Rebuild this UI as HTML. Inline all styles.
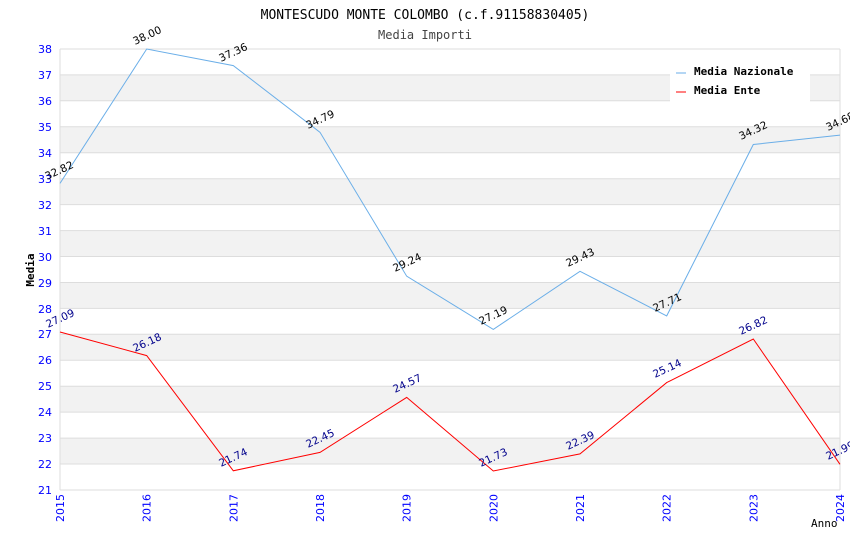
<!DOCTYPE html>
<html><head><meta charset="utf-8"><style>body{margin:0;background:#fff}svg{display:block}</style></head><body>
<svg width="850" height="550" xmlns="http://www.w3.org/2000/svg" font-family="DejaVu Sans, sans-serif">
<rect width="850" height="550" fill="#fff"/>
<g fill="#f2f2f2">
<rect x="60" y="74.9" width="780" height="25.9"/><rect x="60" y="126.8" width="780" height="25.9"/><rect x="60" y="178.7" width="780" height="25.9"/><rect x="60" y="230.6" width="780" height="25.9"/><rect x="60" y="282.5" width="780" height="25.9"/><rect x="60" y="334.3" width="780" height="25.9"/><rect x="60" y="386.2" width="780" height="25.9"/><rect x="60" y="438.1" width="780" height="25.9"/>
</g>
<g stroke="#ddd" stroke-width="1">
<line x1="60" y1="74.9" x2="840" y2="74.9"/><line x1="60" y1="100.8" x2="840" y2="100.8"/><line x1="60" y1="126.8" x2="840" y2="126.8"/><line x1="60" y1="152.7" x2="840" y2="152.7"/><line x1="60" y1="178.7" x2="840" y2="178.7"/><line x1="60" y1="204.6" x2="840" y2="204.6"/><line x1="60" y1="230.6" x2="840" y2="230.6"/><line x1="60" y1="256.5" x2="840" y2="256.5"/><line x1="60" y1="282.5" x2="840" y2="282.5"/><line x1="60" y1="308.4" x2="840" y2="308.4"/><line x1="60" y1="334.3" x2="840" y2="334.3"/><line x1="60" y1="360.2" x2="840" y2="360.2"/><line x1="60" y1="386.2" x2="840" y2="386.2"/><line x1="60" y1="412.1" x2="840" y2="412.1"/><line x1="60" y1="438.1" x2="840" y2="438.1"/><line x1="60" y1="464" x2="840" y2="464"/>
<line x1="60" y1="49" x2="840" y2="49"/><line x1="60" y1="490" x2="840" y2="490"/><line x1="60" y1="49" x2="60" y2="490"/><line x1="840" y1="49" x2="840" y2="490"/>
</g>
<g font-size="11" fill="#00f" text-anchor="end">
<text x="52" y="53">38</text><text x="52" y="79">37</text><text x="52" y="105">36</text><text x="52" y="131">35</text><text x="52" y="157">34</text><text x="52" y="183">33</text><text x="52" y="209">32</text><text x="52" y="235">31</text><text x="52" y="261">30</text><text x="52" y="287">29</text><text x="52" y="313">28</text><text x="52" y="338">27</text><text x="52" y="364">26</text><text x="52" y="390">25</text><text x="52" y="416">24</text><text x="52" y="442">23</text><text x="52" y="468">22</text><text x="52" y="494">21</text>
</g>
<g font-size="11" fill="#00f" text-anchor="end">
<text transform="translate(64,494) rotate(-90)">2015</text><text transform="translate(150.7,494) rotate(-90)">2016</text><text transform="translate(237.3,494) rotate(-90)">2017</text><text transform="translate(324,494) rotate(-90)">2018</text><text transform="translate(410.7,494) rotate(-90)">2019</text><text transform="translate(497.3,494) rotate(-90)">2020</text><text transform="translate(584,494) rotate(-90)">2021</text><text transform="translate(670.7,494) rotate(-90)">2022</text><text transform="translate(757.3,494) rotate(-90)">2023</text><text transform="translate(844,494) rotate(-90)">2024</text>
</g>
<text x="425" y="19" font-family="DejaVu Sans Mono, monospace" font-size="13" text-anchor="middle">MONTESCUDO MONTE COLOMBO (c.f.91158830405)</text>
<text x="425" y="39" font-family="DejaVu Sans Mono, monospace" font-size="12" fill="#444" text-anchor="middle">Media Importi</text>
<text transform="translate(34,270) rotate(-90)" font-family="DejaVu Sans Mono, monospace" font-size="11" font-weight="bold" text-anchor="middle">Media</text>
<text x="811" y="527" font-family="DejaVu Sans Mono, monospace" font-size="11">Anno</text>
<polyline fill="none" stroke="#6aaee8" stroke-width="1" points="60,183.4 146.7,49 233.3,65.6 320,132.3 406.7,276.2 493.3,329.4 580,271.3 666.7,315.9 753.3,144.5 840,135.1"/>
<polyline fill="none" stroke="#f00" stroke-width="1" points="60,332 146.7,355.6 233.3,470.8 320,452.4 406.7,397.4 493.3,471 580,453.9 666.7,382.6 753.3,339 840,464.3"/>
<g font-size="10.5" fill="#000">
<text transform="translate(47,180) rotate(-25)">32.82</text><text transform="translate(135,45) rotate(-25)">38.00</text><text transform="translate(221,62) rotate(-25)">37.36</text><text transform="translate(308,129) rotate(-25)">34.79</text><text transform="translate(395,272) rotate(-25)">29.24</text><text transform="translate(481,325) rotate(-25)">27.19</text><text transform="translate(568,267) rotate(-25)">29.43</text><text transform="translate(655,312) rotate(-25)">27.71</text><text transform="translate(741,140) rotate(-25)">34.32</text><text transform="translate(828,131) rotate(-25)">34.68</text>
</g>
<g font-size="10.5" fill="#00008b">
<text transform="translate(48,328) rotate(-25)">27.09</text><text transform="translate(135,352) rotate(-25)">26.18</text><text transform="translate(221,467) rotate(-25)">21.74</text><text transform="translate(308,448) rotate(-25)">22.45</text><text transform="translate(395,393) rotate(-25)">24.57</text><text transform="translate(481,467) rotate(-25)">21.73</text><text transform="translate(568,450) rotate(-25)">22.39</text><text transform="translate(655,378) rotate(-25)">25.14</text><text transform="translate(741,335) rotate(-25)">26.82</text><text transform="translate(828,460) rotate(-25)">21.99</text>
</g>
<rect x="670" y="60" width="140" height="42" fill="#fff"/>
<line x1="676" y1="73" x2="686" y2="73" stroke="#6aaee8"/>
<line x1="676" y1="92" x2="686" y2="92" stroke="#f00"/>
<g font-family="DejaVu Sans Mono, monospace" font-size="11" font-weight="bold">
<text x="694" y="75">Media Nazionale</text><text x="694" y="94">Media Ente</text>
</g>
</svg>
</body></html>
